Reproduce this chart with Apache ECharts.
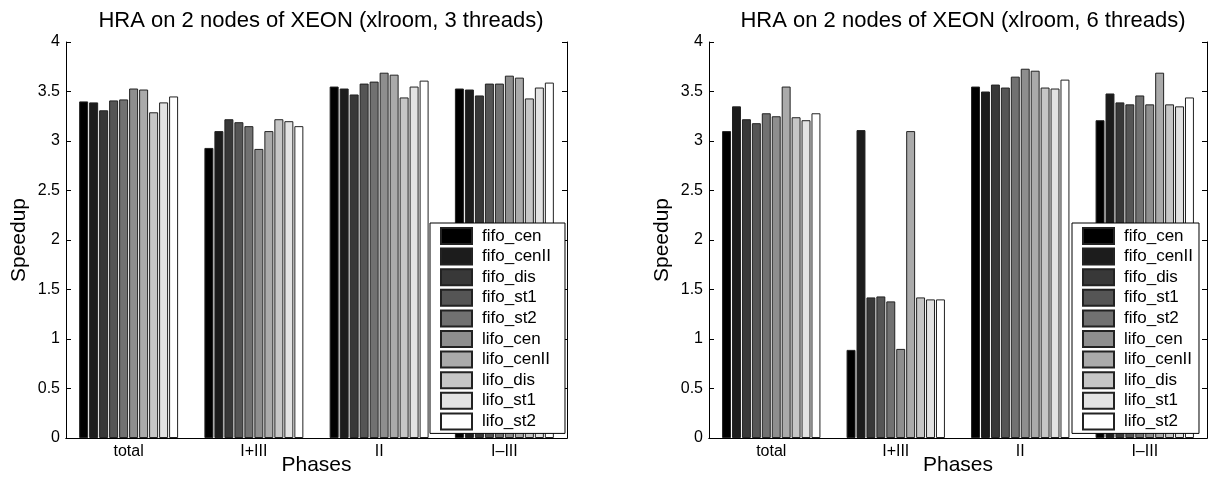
<!DOCTYPE html>
<html>
<head>
<meta charset="utf-8">
<script src="https://cdn.jsdelivr.net/npm/echarts@6/dist/echarts.min.js"></script>
<style>
  html, body { margin: 0; padding: 0; background: #fff; }
  #chart { width: 1208px; height: 481px; }
</style>
</head>
<body>
<div id="chart"></div>
<script>
  // phases on the x axis
  const phases = ['total', 'I+III', 'II', 'I\u2013III'];
  const schemes = ['fifo_cen', 'fifo_cenII', 'fifo_dis', 'fifo_st1', 'fifo_st2',
                   'lifo_cen', 'lifo_cenII', 'lifo_dis', 'lifo_st1', 'lifo_st2'];
  const grays = ['#000000', '#1c1c1c', '#383838', '#555555', '#717171',
                 '#8e8e8e', '#aaaaaa', '#c6c6c6', '#e3e3e3', '#ffffff'];

  // 3 threads: speedup of each scheme, one array per phase
  const t3Total = [3.40, 3.39, 3.31, 3.41, 3.42, 3.53, 3.52, 3.29, 3.39, 3.45];
  const t3PhaseIandIII = [2.93, 3.10, 3.22, 3.19, 3.15, 2.92, 3.10, 3.22, 3.20, 3.15];
  const t3PhaseII = [3.55, 3.53, 3.47, 3.58, 3.60, 3.69, 3.67, 3.44, 3.55, 3.61];
  const t3PhaseItoIII = [3.53, 3.52, 3.46, 3.58, 3.58, 3.66, 3.64, 3.43, 3.54, 3.59];

  // 6 threads
  const t6Total = [3.10, 3.35, 3.22, 3.18, 3.28, 3.25, 3.55, 3.24, 3.21, 3.28];
  const t6PhaseIandIII = [0.89, 3.11, 1.42, 1.43, 1.38, 0.90, 3.10, 1.42, 1.40, 1.40];
  const t6PhaseII = [3.55, 3.50, 3.57, 3.54, 3.65, 3.73, 3.71, 3.54, 3.53, 3.62];
  const t6PhaseItoIII = [3.21, 3.48, 3.39, 3.37, 3.46, 3.37, 3.69, 3.37, 3.35, 3.44];

  const font = 'Liberation Sans, Arial, Helvetica, sans-serif';
  const chart = echarts.init(document.getElementById('chart'));

  const left3 = [t3Total, t3PhaseIandIII, t3PhaseII, t3PhaseItoIII];
  const left6 = [t6Total, t6PhaseIandIII, t6PhaseII, t6PhaseItoIII];

  function makeSeries(byPhase, idx) {
    return schemes.map(function (name, s) {
      return {
        name: name,
        type: 'bar',
        xAxisIndex: idx,
        yAxisIndex: idx,
        barGap: '11%',
        barCategoryGap: '21%',
        itemStyle: { color: grays[s], borderColor: '#222', borderWidth: 1 },
        emphasis: { disabled: true },
        data: byPhase.map(function (arr) { return arr[s]; })
      };
    });
  }

  function bottomAxis(g) {
    return {
      type: 'category', gridIndex: g, data: phases,
      name: 'Phases', nameLocation: 'middle', nameGap: 17, nameMoveOverlap: false,
      nameTextStyle: { fontSize: 21, color: '#000', fontFamily: font },
      axisLine: { lineStyle: { color: '#000' } },
      axisTick: { alignWithLabel: true, inside: true, length: 5, lineStyle: { color: '#000' } },
      axisLabel: { fontSize: 16, color: '#000', fontFamily: font, margin: 6 }
    };
  }
  function topAxis(g) {
    return {
      type: 'category', gridIndex: g, data: phases, position: 'top',
      axisLine: { lineStyle: { color: '#000' } },
      axisTick: { alignWithLabel: true, inside: true, length: 5, lineStyle: { color: '#000' } },
      axisLabel: { show: false }
    };
  }
  function leftAxis(g) {
    return {
      type: 'value', gridIndex: g, min: 0, max: 4, interval: 0.5,
      name: 'Speedup', nameLocation: 'middle', nameGap: 36,
      nameTextStyle: { fontSize: 21, color: '#000', fontFamily: font },
      axisLine: { show: true, lineStyle: { color: '#000' } },
      axisTick: { show: true, inside: true, length: 5, lineStyle: { color: '#000' } },
      axisLabel: { fontSize: 16, color: '#000', fontFamily: font, margin: 6 },
      splitLine: { show: false }
    };
  }
  function rightAxis(g) {
    return {
      type: 'value', gridIndex: g, min: 0, max: 4, interval: 0.5, position: 'right',
      axisLine: { show: true, lineStyle: { color: '#000' } },
      axisTick: { show: true, inside: true, length: 5, lineStyle: { color: '#000' } },
      axisLabel: { show: false },
      splitLine: { show: false }
    };
  }
  function legendAt(x, padRight) {
    return {
      data: schemes, orient: 'vertical', left: x, top: 223,
      backgroundColor: '#fff', borderColor: '#000', borderWidth: 1,
      padding: [4, padRight, 3, 10], itemGap: 2.6, itemWidth: 31, itemHeight: 16,
      icon: 'rect', selectedMode: false,
      textStyle: { fontSize: 17, color: '#000', fontFamily: font, padding: [0, 0, 0, 5] }
    };
  }

  chart.setOption({
    animation: false,
    title: [
      { text: 'HRA on 2 nodes of XEON (xlroom, 3 threads)', left: 316, top: 5, textAlign: 'center',
        textStyle: { fontSize: 22, fontWeight: 'normal', color: '#000', fontFamily: font } },
      { text: 'HRA on 2 nodes of XEON (xlroom, 6 threads)', left: 958, top: 5, textAlign: 'center',
        textStyle: { fontSize: 22, fontWeight: 'normal', color: '#000', fontFamily: font } }
    ],
    grid: [
      { left: 66, top: 42, width: 501, height: 396, outerBoundsMode: 'none' },
      { left: 709, top: 42, width: 498, height: 396, outerBoundsMode: 'none' }
    ],
    legend: [legendAt(430, 14), legendAt(1072, 6)],
    xAxis: [bottomAxis(0), bottomAxis(1), topAxis(0), topAxis(1)],
    yAxis: [leftAxis(0), leftAxis(1), rightAxis(0), rightAxis(1)],
    series: makeSeries(left3, 0).concat(makeSeries(left6, 1))
  });
</script>
</body>
</html>
